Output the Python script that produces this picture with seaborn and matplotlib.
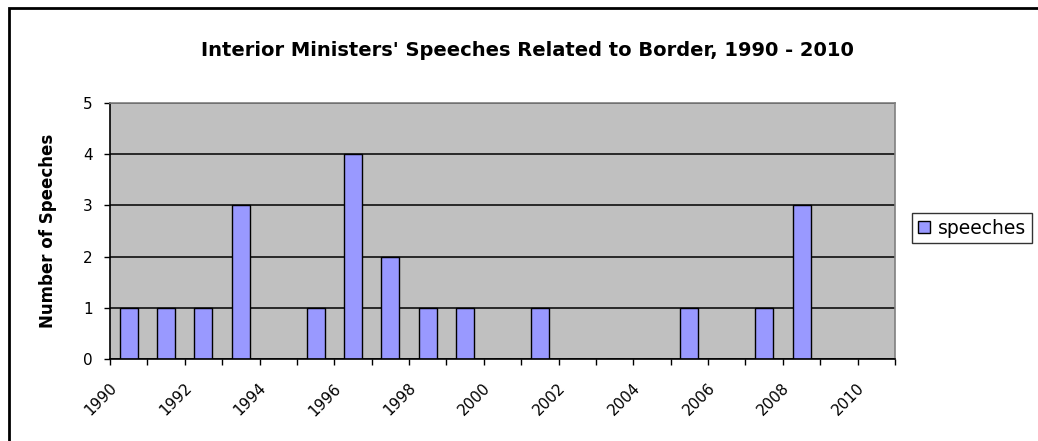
import numpy as np
import pandas as pd
import matplotlib
matplotlib.use("Agg")
import matplotlib.pyplot as plt
from matplotlib.patches import Rectangle
from matplotlib.transforms import ScaledTranslation
import seaborn as sns

# data
years = [str(y) for y in range(1990, 2011)]
speeches = [1, 1, 1, 3, 0, 1, 4, 2, 1, 1, 0, 1, 0, 0, 0, 1, 0, 1, 3, 0, 0]
tick_years = ['1990', '', '1992', '', '1994', '', '1996', '', '1998', '', '2000', '',
              '2002', '', '2004', '', '2006', '', '2008', '', '2010', '']

df = pd.DataFrame({'year': years, 'speeches': speeches})

sns.set_style("white")
plt.rcParams['font.family'] = ['DejaVu Sans']
plt.rcParams['text.color'] = 'black'
plt.rcParams['axes.labelcolor'] = 'black'
plt.rcParams['xtick.color'] = 'black'
plt.rcParams['ytick.color'] = 'black'

W, H = 1038, 441
fig = plt.figure(figsize=(W / 100, H / 100), dpi=100)
ax = fig.add_axes([110 / W, 1 - 359 / H, (895 - 110) / W, (359 - 103) / H])
ax.set_facecolor('#C0C0C0')

sns.barplot(data=df, x='year', y='speeches', color='#9999FF', saturation=1,
            edgecolor='black', linewidth=1.0, width=0.48, label='speeches', ax=ax)

ax.set_xlim(-0.5, len(years) - 0.5)
ax.set_ylim(0, 5)
ax.set_yticks(range(6))
ax.set_yticklabels([str(v) for v in range(6)], fontsize=11)
ax.yaxis.grid(True, color='black', linewidth=1.1)
ax.set_axisbelow(True)

ax.tick_params(axis='both', which='both', direction='out', length=4.5, width=1,
               color='black', bottom=True, left=True)
ax.tick_params(axis='x', pad=11)
ax.tick_params(axis='y', pad=8)

ax.set_xticks(np.arange(-0.5, len(years), 1))
ax.set_xticklabels(tick_years, fontsize=11, rotation=45, ha='right')
# labels sit a little to the right of their tick marks
for lab in ax.get_xticklabels():
    lab.set_transform(lab.get_transform() + ScaledTranslation(7 / 72, 0, fig.dpi_scale_trans))

for side in ['left', 'bottom']:
    ax.spines[side].set_color('black')
    ax.spines[side].set_linewidth(1.2)
for side in ['top', 'right']:
    ax.spines[side].set_visible(True)
    ax.spines[side].set_color('#808080')
    ax.spines[side].set_linewidth(1.2)

ax.set_xlabel('')
ax.set_ylabel('Number of Speeches', fontsize=12, fontweight='bold')
ax.yaxis.set_label_coords((57 - 110) / (895 - 110), 0.5)

fig.text(527 / W, 1 - 51 / H, "Interior Ministers' Speeches Related to Border, 1990 - 2010",
         ha='center', va='center', fontsize=14, fontweight='bold')

leg = ax.legend(loc='center left', bbox_to_anchor=(912 / W, 1 - 228 / H),
                bbox_transform=fig.transFigure, fontsize=13.5, frameon=True,
                fancybox=False, edgecolor='black', handlelength=0.65, handleheight=0.65,
                handletextpad=0.45, borderpad=0.3, borderaxespad=0)
leg.get_frame().set_linewidth(1.0)

fig.add_artist(Rectangle((9 / W, -0.1), 1.2, 0.1 + 1 - 8 / H, transform=fig.transFigure,
                         fill=False, edgecolor='black', linewidth=2))

fig.savefig('out.png', dpi=100)
